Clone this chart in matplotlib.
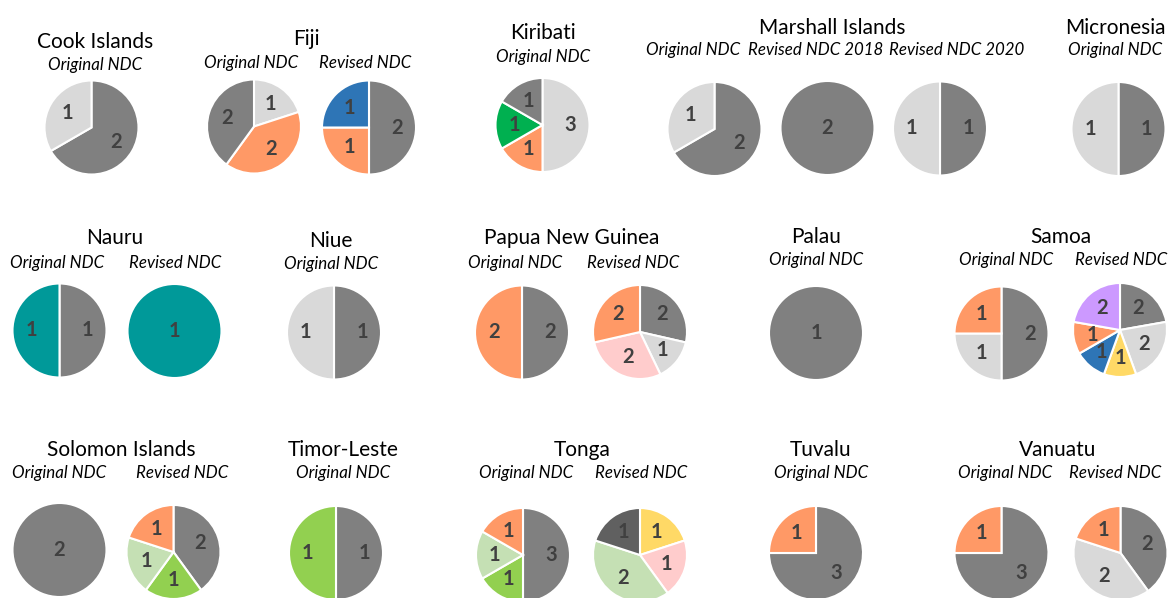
import matplotlib
matplotlib.use("Agg")
import matplotlib.pyplot as plt
import numpy as np

# ------------------------------------------------------------
# Data: slices of each pie, clockwise from 12 o'clock
# ------------------------------------------------------------

COOK_ISLANDS = [[("grey", 2), ("light grey", 1)]]
FIJI = [[("light grey", 1), ("orange", 2), ("grey", 2)],
        [("grey", 2), ("orange", 1), ("blue", 1)]]
KIRIBATI = [[("light grey", 3), ("orange", 1), ("green", 1), ("grey", 1)]]
MARSHALL_ISLANDS = [[("grey", 2), ("light grey", 1)],
                    [("grey", 2)],
                    [("grey", 1), ("light grey", 1)]]
MICRONESIA = [[("grey", 1), ("light grey", 1)]]
NAURU = [[("grey", 1), ("teal", 1)],
         [("teal", 1)]]
NIUE = [[("grey", 1), ("light grey", 1)]]
PAPUA_NEW_GUINEA = [[("grey", 2), ("orange", 2)],
                    [("grey", 2), ("light grey", 1), ("pink", 2), ("orange", 2)]]
PALAU = [[("grey", 1)]]
SAMOA = [[("grey", 2), ("light grey", 1), ("orange", 1)],
         [("grey", 2), ("light grey", 2), ("yellow", 1), ("blue", 1),
          ("orange", 1), ("purple", 2)]]
SOLOMON_ISLANDS = [[("grey", 2)],
                   [("grey", 2), ("light green", 1), ("pale green", 1), ("orange", 1)]]
TIMOR_LESTE = [[("grey", 1), ("light green", 1)]]
TONGA = [[("grey", 3), ("light green", 1), ("pale green", 1), ("orange", 1)],
         [("yellow", 1), ("pink", 1), ("pale green", 2), ("dark grey", 1)]]
TUVALU = [[("grey", 3), ("orange", 1)]]
VANUATU = [[("grey", 3), ("orange", 1)],
           [("grey", 2), ("light grey", 2), ("orange", 1)]]

COUNTRIES = ["Cook Islands", "Fiji", "Kiribati", "Marshall Islands", "Micronesia",
             "Nauru", "Niue", "Papua New Guinea", "Palau", "Samoa",
             "Solomon Islands", "Timor-Leste", "Tonga", "Tuvalu", "Vanuatu"]

PIES = [COOK_ISLANDS, FIJI, KIRIBATI, MARSHALL_ISLANDS, MICRONESIA,
        NAURU, NIUE, PAPUA_NEW_GUINEA, PALAU, SAMOA,
        SOLOMON_ISLANDS, TIMOR_LESTE, TONGA, TUVALU, VANUATU]

NDC_LABELS = [
    ["Original NDC"],
    ["Original NDC", "Revised NDC"],
    ["Original NDC"],
    ["Original NDC", "Revised NDC 2018", "Revised NDC 2020"],
    ["Original NDC"],
    ["Original NDC", "Revised NDC"],
    ["Original NDC"],
    ["Original NDC", "Revised NDC"],
    ["Original NDC"],
    ["Original NDC", "Revised NDC"],
    ["Original NDC", "Revised NDC"],
    ["Original NDC"],
    ["Original NDC", "Revised NDC"],
    ["Original NDC"],
    ["Original NDC", "Revised NDC"],
]

# ------------------------------------------------------------
# Styles
# ------------------------------------------------------------

PALETTE = {
    "grey": "#808080",
    "light grey": "#D9D9D9",
    "dark grey": "#606060",
    "orange": "#FF9966",
    "blue": "#2E75B6",
    "green": "#00B050",
    "teal": "#009999",
    "light green": "#92D050",
    "pale green": "#C5E0B4",
    "pink": "#FFCCCC",
    "yellow": "#FFD966",
    "purple": "#CC99FF",
}

# layout in pixels (x, y from top): title, subtitles, pie centres
LAYOUT = [
    ((95, 42), [(95, 65)], [(91.5, 127.5)]),
    ((306, 39), [(251, 63), (365, 63)], [(254, 126.5), (369, 127.5)]),
    ((543, 33), [(543, 57)], [(542.5, 125)]),
    ((832, 28), [(693, 50), (816, 50), (957, 50)],
     [(714.5, 129), (827.5, 128), (940, 128.5)]),
    ((1115, 28), [(1115, 50)], [(1118.5, 129)]),
    ((115, 238), [(57, 263), (175, 263)], [(59.5, 330.5), (174.5, 331)]),
    ((331, 241), [(331, 264)], [(334, 332.5)]),
    ((572, 238), [(515, 263), (633, 263)], [(522, 332.5), (640, 332)]),
    ((816, 237), [(816, 260)], [(816, 333)]),
    ((1061, 237), [(1006, 260), (1121, 260)], [(1001.5, 333.5), (1120, 330)]),
    ((121, 450), [(59, 473), (182, 473)], [(59.5, 550), (173.5, 552)]),
    ((343, 450), [(343, 473)], [(336, 553)]),
    ((582, 450), [(526, 473), (641, 473)], [(523, 555), (640, 555)]),
    ((821, 450), [(821, 473)], [(816, 553)]),
    ((1058, 450), [(1005, 473), (1115, 473)], [(1001.5, 553), (1120.5, 553)]),
]

W, H = 1169, 598
RADIUS = 47

plt.rcParams["font.family"] = ["Lato", "DejaVu Sans"]

fig = plt.figure(figsize=(W / 100, H / 100), dpi=100)
ax = fig.add_axes([0, 0, 1, 1])

for country, pies, subs, (title_pos, sub_pos, pie_pos) in zip(
        COUNTRIES, PIES, NDC_LABELS, LAYOUT):

    ax.text(title_pos[0], H - title_pos[1], country,
            ha="center", va="center", fontsize=15, color="#000000")

    for label, (sx, sy) in zip(subs, sub_pos):
        ax.text(sx, H - sy, label, ha="center", va="center",
                fontsize=12.2, style="italic", color="#000000")

    for slices, (px, py) in zip(pies, pie_pos):
        values = [v for _, v in slices]
        colors = [PALETTE[c] for c, _ in slices]
        wedges, _ = ax.pie(
            values,
            colors=colors,
            startangle=90,
            counterclock=False,
            center=(px, H - py),
            radius=RADIUS,
            wedgeprops=dict(edgecolor="white", linewidth=1.5),
        )
        for w, v in zip(wedges, values):
            if len(values) == 1:
                lx, ly = px, H - py
            else:
                ang = np.deg2rad((w.theta1 + w.theta2) / 2)
                lx = px + 0.6 * RADIUS * np.cos(ang)
                ly = H - py + 0.6 * RADIUS * np.sin(ang)
            ax.text(lx, ly, str(v), ha="center", va="center",
                    fontsize=14.5, fontweight="bold", color="#404040")

ax.set_xlim(0, W)
ax.set_ylim(0, H)
ax.set_aspect("auto")
ax.axis("off")

fig.savefig("out.png", dpi=100, facecolor="white")
